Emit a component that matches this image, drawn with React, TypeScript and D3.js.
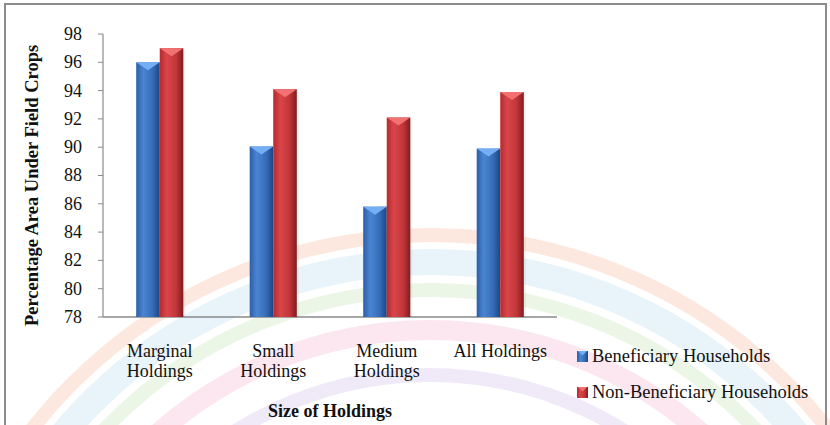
import React from "react";
import * as d3 from "d3";

const categories = [["Marginal", "Holdings"], ["Small", "Holdings"], ["Medium", "Holdings"], ["All Holdings"]];
const categoryKeys = ["Marginal Holdings", "Small Holdings", "Medium Holdings", "All Holdings"];
const beneficiary = [96.0, 90.05, 85.8, 89.9];
const nonBeneficiary = [97.0, 94.1, 92.1, 93.9];
const seriesNames = ["Beneficiary Households", "Non-Beneficiary Households"];
const yTicks = [78, 80, 82, 84, 86, 88, 90, 92, 94, 96, 98];

const W = 830, H = 425;
const plot = { left: 103, right: 557, top: 34, bottom: 317 };
const FONT = "'Liberation Serif', 'Times New Roman', serif";

export default function App() {
  const x = d3.scaleBand<string>().domain(categoryKeys).range([plot.left, plot.right]).paddingInner(0.585).paddingOuter(0.2925);
  const xs = d3.scaleBand<string>().domain(["b", "n"]).range([0, x.bandwidth()]);
  const y = d3.scaleLinear().domain([78, 98]).range([plot.bottom, plot.top]);
  const series = [
    { key: "b", values: beneficiary, grad: "gb", tri: "#74aef5", name: seriesNames[0] },
    { key: "n", values: nonBeneficiary, grad: "gr", tri: "#f27272", name: seriesNames[1] },
  ];
  const arcCenter = [430, 740];
  const arcs = [
    { r: 505, c: "#f3a57e", w: 14, o: 0.25 },
    { r: 478, c: "#a9d3ee", w: 26, o: 0.27 },
    { r: 450, c: "#b5dca6", w: 14, o: 0.27 },
    { r: 410, c: "#f3a3c4", w: 20, o: 0.27 },
    { r: 365, c: "#c9b2e6", w: 14, o: 0.27 },
  ];
  return (
    <svg width={W} height={H} style={{ position: "absolute", left: 0, top: 0, background: "#fff", fontFamily: FONT }}>
      <defs>
        <linearGradient id="gb" x1="0" x2="1" y1="0" y2="0">
          <stop offset="0" stopColor="#2c5ea8" />
          <stop offset="0.3" stopColor="#4a85d2" />
          <stop offset="0.7" stopColor="#356cb8" />
          <stop offset="1" stopColor="#1d4584" />
        </linearGradient>
        <linearGradient id="gr" x1="0" x2="1" y1="0" y2="0">
          <stop offset="0" stopColor="#b62a2e" />
          <stop offset="0.3" stopColor="#d8464a" />
          <stop offset="0.7" stopColor="#c23539" />
          <stop offset="1" stopColor="#7e1c1e" />
        </linearGradient>
      </defs>
      <rect x={0} y={0} width={W} height={H} fill="#fff" />
      {arcs.map((a, i) => (
        <circle key={i} cx={arcCenter[0]} cy={arcCenter[1]} r={a.r} fill="none" stroke={a.c} strokeWidth={a.w} opacity={a.o} />
      ))}
      <rect x={5} y={4} width={821} height={430} fill="none" stroke="#8c8c8c" strokeWidth={2} />
      {/* axes */}
      <line x1={plot.left} x2={plot.left} y1={plot.top} y2={plot.bottom} stroke="#8a8a8a" strokeWidth={1.2} />
      <line x1={plot.left} x2={plot.right} y1={plot.bottom} y2={plot.bottom} stroke="#8a8a8a" strokeWidth={1.5} />
      {yTicks.map((t) => (
        <g key={t}>
          <line x1={plot.left - 5} x2={plot.left} y1={y(t)} y2={y(t)} stroke="#8a8a8a" />
          <text x={82} y={y(t)} dy="0.33em" textAnchor="end" fontSize={18} fill="#111" style={{ fontFamily: FONT }}>{t}</text>
        </g>
      ))}
      {/* bars */}
      {series.map((s) =>
        categoryKeys.map((c, i) => {
          const bx = (x(c) ?? 0) + (xs(s.key) ?? 0);
          const bw = xs.bandwidth();
          const by = y(s.values[i]);
          return (
            <g key={s.key + c}>
              <rect x={bx + 2} y={by + 2} width={bw} height={plot.bottom - by - 2} fill="#000" opacity={0.06} />
              <rect x={bx} y={by} width={bw} height={plot.bottom - by} fill={`url(#${s.grad})`} />
              <path d={`M${bx},${by}L${bx + bw},${by}L${bx + bw / 2},${by + 8}Z`} fill={s.tri} />
            </g>
          );
        })
      )}
      {/* x labels */}
      {categoryKeys.map((c, i) => (
        <text key={c} x={(x(c) ?? 0) + x.bandwidth() / 2} y={357} textAnchor="middle" fontSize={18} fill="#111" style={{ fontFamily: FONT }}>
          {categories[i].map((line, j) => (
            <tspan key={j} x={(x(c) ?? 0) + x.bandwidth() / 2} dy={j === 0 ? 0 : 20}>{line}</tspan>
          ))}
        </text>
      ))}
      <text x={330} y={417} textAnchor="middle" fontSize={18} fontWeight="bold" fill="#111" style={{ fontFamily: FONT }}>Size of Holdings</text>
      <text transform={`translate(38,185.5) rotate(-90)`} textAnchor="middle" fontSize={18.5} fontWeight="bold" fill="#111" style={{ fontFamily: FONT }}>Percentage Area Under Field Crops</text>
      {/* legend */}
      {series.map((s, i) => (
        <g key={s.key} transform={`translate(577,${351 + i * 36})`}>
          <rect x={0} y={0} width={11} height={11} fill={`url(#${s.grad})`} />
          <path d="M1,0L10,0L5.5,4.5Z" fill={s.tri} />
          <text x={15} y={11.3} fontSize={18.5} fill="#111" style={{ fontFamily: FONT }}>{s.name}</text>
        </g>
      ))}
    </svg>
  );
}
